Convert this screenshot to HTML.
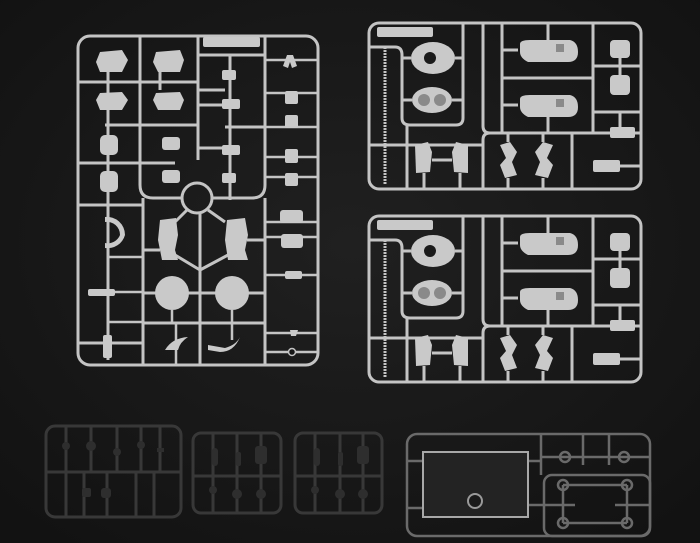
<!DOCTYPE html>
<html><head><meta charset="utf-8"><style>
html,body{margin:0;padding:0;background:#161616;}
svg{display:block}
</style></head><body>
<svg width="700" height="543" viewBox="0 0 700 543" xmlns="http://www.w3.org/2000/svg">
<defs>
<radialGradient id="bg" cx="50%" cy="45%" r="70%">
<stop offset="0" stop-color="#202020"/><stop offset="1" stop-color="#121212"/>
</radialGradient>
<g id="rr">
 <g fill="none" stroke="#c4c4c4" stroke-width="3">
  <rect x="369" y="23" width="272" height="166" rx="10"/>
  <path d="M369 47 H395 Q402 47 402 55 V118 Q402 125 410 125 H456 Q463 125 463 118 V23"/>
  <path d="M483 23 V126 Q483 133 490 133 H640"/>
  <path d="M490 133 Q483 133 483 140 V189"/>
  <line x1="502" y1="23" x2="502" y2="133"/>
  <line x1="593" y1="23" x2="593" y2="133"/>
  <line x1="502" y1="78" x2="593" y2="78"/>
  <line x1="593" y1="112" x2="640" y2="112"/>
  <line x1="572" y1="133" x2="572" y2="189"/>
  <line x1="369" y1="145" x2="483" y2="145"/>
  <line x1="407" y1="125" x2="407" y2="189"/>
  <line x1="385" y1="47" x2="385" y2="185" stroke-dasharray="2 1"/>
  <line x1="455" y1="58" x2="463" y2="58"/><line x1="402" y1="58" x2="411" y2="58"/>
  <line x1="402" y1="100" x2="412" y2="100"/><line x1="452" y1="100" x2="463" y2="100"/>
  <line x1="502" y1="50" x2="518" y2="50"/><line x1="502" y1="105" x2="518" y2="105"/>
  <line x1="548" y1="23" x2="548" y2="40"/><line x1="548" y1="117" x2="548" y2="133"/>
  <line x1="593" y1="66" x2="640" y2="66"/><line x1="620" y1="58" x2="620" y2="75"/>
  <line x1="620" y1="112" x2="620" y2="127"/><line x1="593" y1="166" x2="640" y2="166"/>
  <line x1="424" y1="173" x2="424" y2="189"/><line x1="460" y1="173" x2="460" y2="189"/>
  <line x1="432" y1="160" x2="452" y2="160"/>
  <line x1="508" y1="133" x2="508" y2="142"/><line x1="543" y1="133" x2="543" y2="142"/>
  <line x1="508" y1="178" x2="508" y2="189"/><line x1="543" y1="178" x2="543" y2="189"/>
 </g>
 <g fill="#c9c9c9">
  <rect x="377" y="27" width="56" height="10" rx="2"/>
  <ellipse cx="433" cy="58" rx="22" ry="16"/>
  <ellipse cx="432" cy="100" rx="20" ry="13"/>
  <path d="M520 44 Q520 40 530 40 L570 40 Q578 42 578 52 Q578 62 568 62 L528 62 Q520 58 520 52Z"/>
  <path d="M520 99 Q520 95 530 95 L570 95 Q578 97 578 107 Q578 117 568 117 L528 117 Q520 113 520 107Z"/>
  <rect x="610" y="40" width="20" height="18" rx="4"/>
  <rect x="610" y="75" width="20" height="20" rx="4"/>
  <rect x="610" y="127" width="25" height="11" rx="2"/>
  <rect x="593" y="160" width="27" height="12" rx="2"/>
  <path d="M415 145 L428 142 L432 152 L430 172 L416 173 Z"/>
  <path d="M452 152 L456 142 L468 145 L468 173 L454 172 Z"/>
  <path d="M500 145 L510 142 L517 152 L512 162 L517 175 L505 178 L500 165 L506 158Z"/>
  <path d="M553 145 L543 142 L535 152 L540 162 L535 175 L548 178 L553 165 L547 158Z"/>
 </g>
 <g fill="#8a8a8a">
  <circle cx="430" cy="58" r="6" fill="#1a1a1a"/>
  <circle cx="424" cy="100" r="6"/><circle cx="440" cy="100" r="6"/>
  <rect x="556" y="44" width="8" height="8"/><rect x="556" y="99" width="8" height="8"/>
 </g>
</g>
</defs>
<rect width="700" height="543" fill="url(#bg)"/>

<!-- big left runner -->
<g fill="none" stroke="#c4c4c4" stroke-width="3">
 <rect x="78" y="36" width="240" height="329" rx="12"/>
 <line x1="140" y1="36" x2="140" y2="165"/>
 <path d="M140 165 V185 Q140 198 153 198 H182"/>
 <line x1="198" y1="36" x2="198" y2="160"/>
 <path d="M265 36 V185 Q265 198 252 198 H212"/>
 <line x1="230" y1="55" x2="230" y2="200"/>
 <line x1="78" y1="82" x2="198" y2="82"/>
 <line x1="198" y1="55" x2="265" y2="55"/>
 <line x1="105" y1="125" x2="198" y2="125"/>
 <line x1="78" y1="163" x2="175" y2="163"/>
 <line x1="198" y1="90" x2="225" y2="90"/>
 <line x1="198" y1="105" x2="225" y2="105"/>
 <line x1="225" y1="127" x2="265" y2="127"/>
 <line x1="198" y1="148" x2="225" y2="148"/>
 <line x1="108" y1="55" x2="108" y2="360"/>
 <line x1="160" y1="60" x2="160" y2="90"/>
 <circle cx="197" cy="198" r="15"/>
 <line x1="200" y1="213" x2="200" y2="365"/>
 <line x1="143" y1="198" x2="143" y2="365"/>
 <line x1="78" y1="205" x2="143" y2="205"/>
 <path d="M187 210 L175 222 M208 210 L225 222"/>
 <path d="M200 270 L175 255 M200 270 L228 255"/>
 <line x1="143" y1="293" x2="265" y2="293"/>
 <line x1="143" y1="323" x2="265" y2="323"/>
 <line x1="78" y1="343" x2="143" y2="343"/>
 <line x1="143" y1="250" x2="160" y2="250"/>
 <line x1="247" y1="240" x2="265" y2="240"/>
 <line x1="265" y1="198" x2="265" y2="365"/>
 <g stroke-width="2.5">
 <line x1="265" y1="93" x2="318" y2="93"/><line x1="265" y1="127" x2="318" y2="127"/>
 <line x1="265" y1="157" x2="318" y2="157"/><line x1="265" y1="177" x2="318" y2="177"/>
 <line x1="265" y1="222" x2="318" y2="222"/><line x1="265" y1="237" x2="318" y2="237"/>
 <line x1="265" y1="275" x2="318" y2="275"/><line x1="265" y1="333" x2="318" y2="333"/>
 <line x1="265" y1="352" x2="318" y2="352"/><line x1="265" y1="60" x2="318" y2="60"/>
 <line x1="108" y1="257" x2="143" y2="257"/><line x1="90" y1="292" x2="143" y2="292"/>
 <line x1="108" y1="322" x2="143" y2="322"/>
 <line x1="172" y1="310" x2="172" y2="323"/><line x1="232" y1="310" x2="232" y2="323"/>
 <line x1="176" y1="323" x2="176" y2="365"/><line x1="232" y1="323" x2="232" y2="340"/>
 </g>
</g>
<g fill="#c9c9c9">
 <rect x="203" y="37" width="57" height="10" rx="2"/>
 <path d="M100 52 L122 50 L128 60 L122 72 L100 72 L96 62Z"/>
 <path d="M156 52 L180 50 L184 60 L180 72 L158 72 L153 62Z"/>
 <path d="M100 93 L122 92 L128 100 L122 110 L100 110 L96 100Z"/>
 <path d="M156 93 L180 92 L184 100 L180 110 L158 110 L153 100Z"/>
 <rect x="100" y="135" width="18" height="20" rx="5"/>
 <rect x="100" y="171" width="18" height="21" rx="5"/>
 <rect x="162" y="137" width="18" height="13" rx="3"/>
 <rect x="162" y="170" width="18" height="13" rx="3"/>
 <rect x="222" y="70" width="14" height="10" rx="2"/>
 <rect x="222" y="99" width="18" height="10" rx="2"/>
 <rect x="222" y="145" width="18" height="10" rx="2"/>
 <rect x="222" y="173" width="14" height="10" rx="2"/>
 <path d="M287 55 L293 55 L297 66 L292 68 L290 62 L288 68 L283 66Z"/>
 <rect x="285" y="91" width="13" height="13" rx="2"/>
 <rect x="285" y="115" width="13" height="13" rx="2"/>
 <rect x="285" y="149" width="13" height="14" rx="2"/>
 <rect x="285" y="173" width="13" height="13" rx="2"/>
 <path d="M105 217 A18 18 0 0 1 125 235 L120 235 A13 13 0 0 0 105 222Z"/>
 <path d="M105 248 A18 18 0 0 0 125 235 L120 235 A13 13 0 0 1 105 243Z"/>
 <path d="M160 220 L176 218 L178 235 L175 250 L178 260 L162 260 L158 240Z"/>
 <path d="M227 220 L245 218 L248 235 L245 250 L248 260 L228 260 L225 240Z"/>
 <rect x="280" y="210" width="23" height="13" rx="3"/>
 <rect x="281" y="234" width="22" height="14" rx="3"/>
 <rect x="285" y="271" width="17" height="8" rx="2"/>
 <circle cx="172" cy="293" r="17"/>
 <circle cx="232" cy="293" r="17"/>
 <path d="M165 350 Q172 338 188 337 Q180 342 178 350Z"/>
 <path d="M208 345 L225 348 Q236 345 240 337 Q234 352 220 352 L208 350Z"/>
 <rect x="103" y="335" width="9" height="23" rx="2"/>
 <rect x="88" y="289" width="27" height="7" rx="2"/>
 <path d="M290 330 L298 330 L296 336 L291 336Z"/>
</g>
<circle cx="292" cy="352" r="3.5" fill="#161616" stroke="#c4c4c4" stroke-width="1.5"/>

<use href="#rr"/>
<use href="#rr" transform="translate(0,193)"/>

<!-- black runners -->
<g fill="none" stroke="#383838" stroke-width="3">
 <rect x="46" y="426" width="135" height="91" rx="9"/>
 <line x1="46" y1="472" x2="181" y2="472"/>
 <path d="M66 426 V472 M91 426 V472 M117 426 V472 M141 426 V472 M160 426 V472 M66 472 V517 M84 472 V517 M107 472 V517 M136 472 V517 M154 472 V517"/>
 <rect x="193" y="433" width="88" height="80" rx="8"/>
 <line x1="193" y1="476" x2="281" y2="476"/>
 <path d="M213 433 V513 M237 433 V513 M261 433 V513"/>
 <rect x="295" y="433" width="87" height="80" rx="8"/>
 <line x1="295" y1="476" x2="382" y2="476"/>
 <path d="M315 433 V513 M340 433 V513 M363 433 V513"/>
</g>
<g fill="#2e2e2e">
 <circle cx="66" cy="446" r="4"/><circle cx="91" cy="446" r="5"/><circle cx="117" cy="452" r="4"/>
 <circle cx="141" cy="445" r="4"/><rect x="157" y="448" width="7" height="4"/>
 <rect x="82" y="488" width="9" height="9" rx="2"/><rect x="101" y="488" width="10" height="10" rx="3"/>
 <rect x="212" y="448" width="6" height="18" rx="3"/><rect x="236" y="452" width="5" height="14" rx="2"/>
 <rect x="255" y="446" width="12" height="18" rx="3"/>
 <circle cx="213" cy="490" r="4"/><circle cx="237" cy="494" r="5"/><circle cx="261" cy="494" r="5"/>
 <rect x="314" y="448" width="6" height="18" rx="3"/><rect x="338" y="452" width="5" height="14" rx="2"/>
 <rect x="357" y="446" width="12" height="18" rx="3"/>
 <circle cx="315" cy="490" r="4"/><circle cx="340" cy="494" r="5"/><circle cx="363" cy="494" r="5"/>
</g>

<!-- clear runner -->
<g fill="none" stroke="#6a6a6a" stroke-width="2.5">
 <rect x="407" y="434" width="243" height="102" rx="10"/>
 <line x1="541" y1="434" x2="541" y2="475"/>
 <rect x="544" y="475" width="106" height="61" rx="8"/>
 <path d="M407 461 H423 M407 508 H423 M528 461 H541 M528 505 H575"/>
 <path d="M541 457 H650 M583 434 V465 M609 434 V465"/>
 <path d="M563 485 H627 M563 523 H627 M563 485 V523 M627 485 V523 M615 505 H650"/>
 <circle cx="563" cy="485" r="5"/><circle cx="627" cy="485" r="5"/>
 <circle cx="563" cy="523" r="5"/><circle cx="627" cy="523" r="5"/>
 <circle cx="565" cy="457" r="5"/><circle cx="624" cy="457" r="5"/>
</g>
<rect x="423" y="452" width="105" height="65" fill="#232323" stroke="#a8a8a8" stroke-width="2"/>
<circle cx="475" cy="501" r="7" fill="#1a1a1a" stroke="#9a9a9a" stroke-width="2"/>
</svg>
</body></html>
